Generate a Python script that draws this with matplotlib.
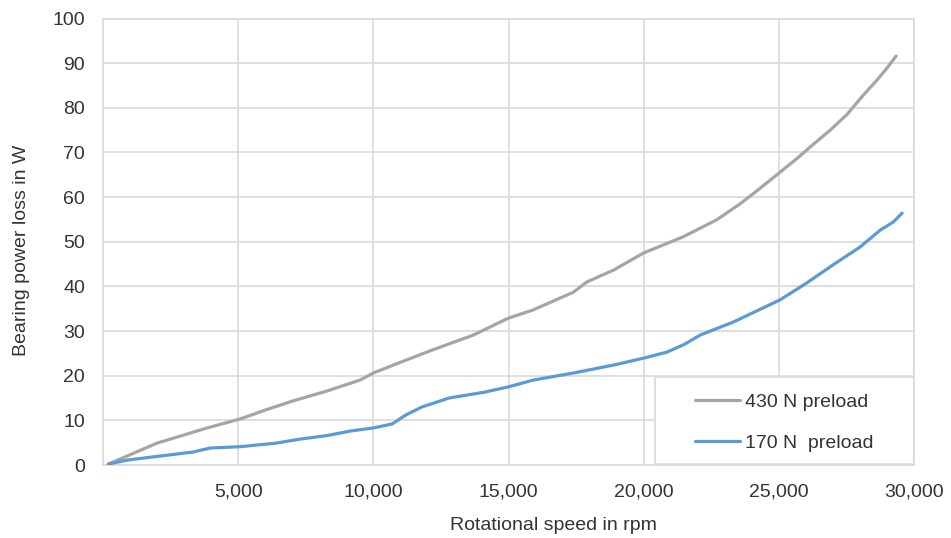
import matplotlib
matplotlib.use("Agg")
import matplotlib.pyplot as plt
from matplotlib.patches import Rectangle

plt.rcParams['font.family'] = ['Liberation Sans', 'DejaVu Sans']

# rotational speed (rpm) and bearing power loss (W) for both preloads
rpm_430 = [200, 1000, 2000, 3200, 3850, 5070, 6000, 7000, 8300, 9500, 10000,
           11000, 12200, 13700, 15000, 15900, 17400, 17900, 18900, 20000,
           21460, 22700, 23570, 24230, 25050, 25700, 26270, 26900, 27520,
           28120, 28630, 29000, 29340]
loss_430 = [0.2, 2.3, 4.9, 7.1, 8.3, 10.3, 12.3, 14.3, 16.6, 19.0, 20.6,
            23.0, 25.8, 29.1, 32.9, 34.7, 38.7, 41.0, 43.7, 47.5,
            51.1, 54.9, 58.5, 61.6, 65.6, 68.8, 71.8, 75.0, 78.5,
            82.8, 86.2, 88.9, 91.6]

rpm_170 = [200, 900, 2100, 3330, 3960, 5070, 6400, 7290, 8300, 9140, 10000,
           10700, 11200, 11800, 12800, 14100, 15000, 15900, 17400, 18900,
           20050, 20870, 21500, 22090, 23310, 25050, 26040, 27000, 28000,
           28750, 29230, 29560]
loss_170 = [0.2, 1.1, 2.0, 2.9, 3.8, 4.1, 4.9, 5.8, 6.6, 7.6, 8.3,
            9.2, 11.2, 13.0, 15.0, 16.3, 17.5, 19.0, 20.6, 22.4,
            24.0, 25.3, 27.0, 29.1, 32.0, 37.0, 40.8, 44.8, 48.8,
            52.6, 54.4, 56.4]

x_ticks = [5000, 10000, 15000, 20000, 25000, 30000]
y_ticks = list(range(0, 101, 10))

grid_col = '#D9D9D9'
text_col = '#333333'

fig = plt.figure(figsize=(9.51, 5.38), dpi=100)
ax = fig.add_axes([103 / 951, 1 - 465 / 538, 811 / 951, 446.5 / 538])

ax.plot(rpm_430, loss_430, color='#A5A5A5', lw=2.3, label='430 N preload',
        solid_capstyle='round', zorder=3)
ax.plot(rpm_170, loss_170, color='#5B9BD5', lw=2.3, label='170 N  preload',
        solid_capstyle='round', zorder=3)

ax.set_xlim(0, 30000)
ax.set_ylim(0, 100)
ax.set_xticks(x_ticks)
ax.set_xticklabels([f'{t:,}' for t in x_ticks])
ax.set_yticks(y_ticks)
ax.grid(True, color=grid_col, lw=1.2)
ax.set_axisbelow(True)
for s in ax.spines.values():
    s.set_color(grid_col)
    s.set_linewidth(1.2)
ax.tick_params(length=0, labelsize=14, labelcolor=text_col)
ax.tick_params(axis='y', pad=13)
ax.tick_params(axis='x', pad=13)

ax.set_xlabel('Rotational speed in rpm', fontsize=14, color=text_col)
ax.xaxis.set_label_coords(0.555, -0.135)
ax.xaxis.label.set_va('center')
ax.set_ylabel('Bearing power loss in W', fontsize=14, color=text_col)
ax.yaxis.set_label_coords(-0.100, 0.481)
ax.yaxis.label.set_va('center')

# white legend box covering the grid in the lower right corner
box = Rectangle((0.681, 0.002), 0.319, 0.195, transform=ax.transAxes,
                facecolor='white', edgecolor=grid_col, lw=1.2, zorder=2)
ax.add_patch(box)
ax.legend(loc='center', bbox_to_anchor=(0.840, 0.095), frameon=False,
          fontsize=14, handlelength=2.3, handletextpad=0.25,
          labelspacing=1.2, labelcolor=text_col)

fig.savefig('out.png', dpi=100, facecolor='white')
